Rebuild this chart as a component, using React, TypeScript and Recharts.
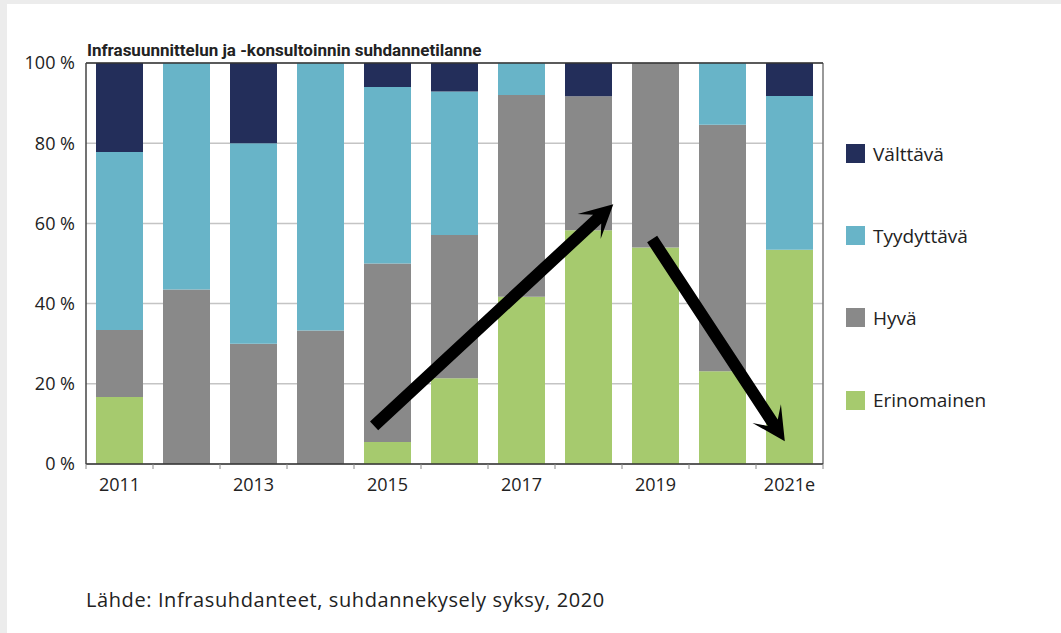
import { BarChart, Bar, XAxis, YAxis, CartesianGrid, ReferenceLine } from 'recharts'

const years = ['2011', '2012', '2013', '2014', '2015', '2016', '2017', '2018', '2019', '2020', '2021e']
const erinomainen = [16.7, 0, 0, 0, 5.5, 21.4, 41.7, 58.3, 54, 23.1, 53.4]
const hyva = [16.7, 43.5, 30, 33.3, 44.5, 35.7, 50.3, 33.4, 46, 61.5, 0]
const tyydyttava = [44.4, 56.5, 50, 66.7, 44, 35.8, 8, 0, 0, 15.4, 38.4]
const valttava = [22.2, 0, 20, 0, 6, 7.1, 0, 8.3, 0, 0, 8.2]
const yTicks = [0, 20, 40, 60, 80, 100]

// annotation arrows: category + % value, shift = fraction of a band from its centre
const arrows = [
  { from: { x: '2015', y: 9.5 }, fromShift: -0.2, to: { x: '2018', y: 64.8 }, toShift: 0.37 },
  { from: { x: '2019', y: 56.1 }, fromShift: -0.05, to: { x: '2021e', y: 5.7 }, toShift: -0.07 }
]

const series = [
  { key: 'valttava', name: 'Välttävä', color: '#232e5a' },
  { key: 'tyydyttava', name: 'Tyydyttävä', color: '#68b4c8' },
  { key: 'hyva', name: 'Hyvä', color: '#898989' },
  { key: 'erinomainen', name: 'Erinomainen', color: '#a6ca6e' }
]

const data = years.map((year, i) => ({
  year,
  erinomainen: erinomainen[i],
  hyva: hyva[i],
  tyydyttava: tyydyttava[i],
  valttava: valttava[i]
}))

const FONT = '"Open Sans", sans-serif'
const PLOT_LEFT = 86
const PLOT_RIGHT = 823
const BAND = (PLOT_RIGHT - PLOT_LEFT) / years.length

function XTick(props: any) {
  const { x, y, payload, index } = props
  const last = index === years.length - 1
  return (
    <g>
      <line x1={x - BAND / 2} x2={x - BAND / 2} y1={y} y2={y + 5} stroke="#888" />
      {last && <line x1={x + BAND / 2} x2={x + BAND / 2} y1={y} y2={y + 5} stroke="#888" />}
      {index % 2 === 0 && (
        <text x={x} y={y + 27} textAnchor="middle" fill="#222" fontSize={18} fontFamily={FONT}>
          {payload.value}
        </text>
      )}
    </g>
  )
}

function Arrow(props: any) {
  const x1 = props.x1 + props.fromShift * BAND
  const x2 = props.x2 + props.toShift * BAND
  const { y1, y2 } = props
  const dx = x2 - x1
  const dy = y2 - y1
  const len = Math.hypot(dx, dy)
  const ux = dx / len
  const uy = dy / len
  const nx = -uy
  const ny = ux
  const w = 6
  const headLen = 33
  const notch = 22
  const half = 17
  const bx = x2 - ux * notch
  const by = y2 - uy * notch
  const wx = x2 - ux * headLen
  const wy = y2 - uy * headLen
  const pts = [
    [x1 + nx * w, y1 + ny * w],
    [bx + nx * w, by + ny * w],
    [wx + nx * half, wy + ny * half],
    [x2, y2],
    [wx - nx * half, wy - ny * half],
    [bx - nx * w, by - ny * w],
    [x1 - nx * w, y1 - ny * w]
  ]
  return <polygon points={pts.map((p) => p.join(',')).join(' ')} fill="#000" />
}

export default function App() {
  return (
    <div style={{ position: 'fixed', left: 0, top: 0, width: 1061, height: 633, background: '#ececec' }}>
      <div style={{ position: 'absolute', left: 7, top: 4, width: 1054, height: 629, background: '#fff' }} />
      <div
        style={{
          position: 'absolute',
          left: 87,
          top: 40,
          fontFamily: 'Roboto, sans-serif',
          fontWeight: 700,
          fontSize: 17,
          lineHeight: 'normal',
          color: '#222',
          whiteSpace: 'nowrap'
        }}
      >
        Infrasuunnittelun ja -konsultoinnin suhdannetilanne
      </div>
      <div style={{ position: 'absolute', left: 0, top: 0 }}>
        <BarChart
          width={1061}
          height={633}
          data={data}
          margin={{ top: 63, right: 1061 - PLOT_RIGHT, bottom: 129, left: 0 }}
          barSize={47}
        >
          <CartesianGrid vertical={false} stroke="#c4c4c4" strokeWidth={1.5} />
          <CartesianGrid
            horizontal={false}
            stroke="#777"
            strokeWidth={1.5}
            verticalCoordinatesGenerator={({ offset }: any) => [offset.left + offset.width]}
          />
          <XAxis
            dataKey="year"
            interval={0}
            tickSize={0}
            tickMargin={0}
            tickLine={false}
            tick={<XTick />}
            axisLine={{ stroke: '#333', strokeWidth: 1.5 }}
            height={40}
          />
          <YAxis
            width={PLOT_LEFT}
            domain={[0, 100]}
            ticks={yTicks}
            tickFormatter={(v) => `${v} %`}
            tickLine={false}
            tickSize={0}
            tickMargin={11}
            axisLine={{ stroke: '#444', strokeWidth: 1.5 }}
            tick={{ fill: '#222', fontSize: 18, fontFamily: FONT }}
          />
          {[...series].reverse().map((s) => (
            <Bar key={s.key} dataKey={s.key} stackId="a" fill={s.color} isAnimationActive={false} />
          ))}
          <ReferenceLine y={100} stroke="#333" strokeWidth={1.5} />
          {arrows.map((a, i) => (
            <ReferenceLine
              key={i}
              segment={[a.from, a.to]}
              ifOverflow="visible"
              shape={(p: any) => <Arrow {...p} fromShift={a.fromShift} toShift={a.toShift} />}
            />
          ))}
        </BarChart>
      </div>
      {series.map((s, i) => (
        <div
          key={s.key}
          style={{
            position: 'absolute',
            left: 846,
            top: 144 + i * 82.2,
            height: 19,
            display: 'flex',
            alignItems: 'center',
            fontFamily: FONT,
            fontSize: 19,
            color: '#222',
            whiteSpace: 'nowrap'
          }}
        >
          <span style={{ width: 19, height: 19, background: s.color, marginRight: 8, flex: 'none' }} />
          {s.name}
        </div>
      ))}
      <div
        style={{
          position: 'absolute',
          left: 86,
          top: 586,
          fontFamily: FONT,
          fontSize: 20,
          letterSpacing: 0.6,
          color: '#222',
          whiteSpace: 'nowrap'
        }}
      >
        Lähde: Infrasuhdanteet, suhdannekysely syksy, 2020
      </div>
    </div>
  )
}
